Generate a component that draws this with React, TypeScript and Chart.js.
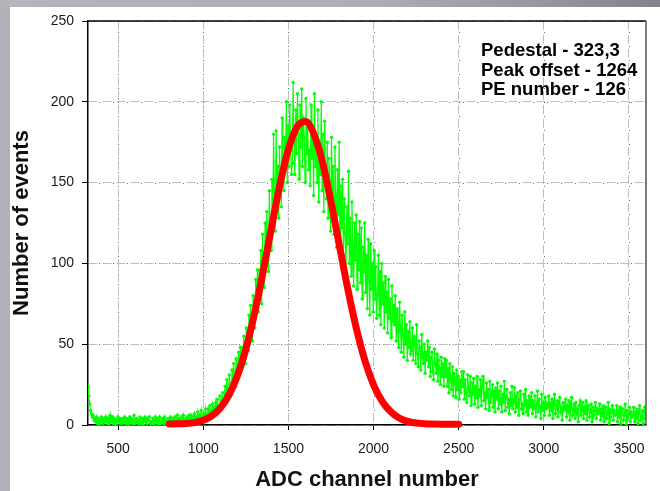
import React, { useEffect, useRef } from "react";
import { Chart, registerables } from "chart.js";

Chart.register(...registerables);

// Green measured histogram: bins start at GREEN_START, every GREEN_STEP channels
const GREEN_START = 323;
const GREEN_STEP = 5;
const greenCounts = [
  24, 18, 13, 9, 7, 5, 6, 3, 4, 2, 5, 1, 3, 4, 0, 2, 5, 3, 1, 4,
  2, 5, 3, 0, 4, 1, 6, 2, 3, 5, 1, 4, 2, 0, 3, 5, 2, 4, 1, 3,
  4, 1, 3, 5, 2, 0, 4, 3, 1, 5, 2, 4, 0, 3, 6, 1, 2, 4, 3, 1,
  3, 5, 1, 2, 4, 0, 3, 5, 2, 1, 4, 3, 5, 1, 2, 0, 4, 3, 1, 5,
  2, 4, 1, 3, 5, 0, 2, 4, 3, 1, 5, 2, 0, 3, 4, 1, 2, 5, 3, 1,
  4, 2, 5, 1, 3, 6, 2, 4, 1, 3, 5, 2, 6, 3, 1, 4, 2, 5, 3, 6,
  3, 6, 2, 5, 4, 7, 3, 5, 2, 8, 4, 6, 3, 9, 5, 4, 7, 3, 10, 6,
  5, 10, 7, 12, 6, 9, 13, 8, 11, 7, 14, 10, 16, 9, 12, 18, 11, 15, 20, 13,
  16, 24, 19, 28, 22, 17, 31, 25, 21, 34, 27, 38, 30, 24, 41, 33, 29, 45, 36, 48,
  34, 48, 40, 55, 44, 38, 60, 50, 46, 68, 55, 74, 62, 52, 80, 66, 60, 90, 70, 96,
  70, 96, 82, 108, 75, 118, 92, 85, 125, 100, 132, 110, 95, 145, 118, 108, 152, 125, 180, 140,
  120, 182, 138, 160, 128, 172, 150, 135, 190, 158, 145, 178, 165, 200, 150, 185, 160, 198, 170, 155,
  162, 212, 175, 155, 195, 168, 205, 180, 152, 198, 172, 208, 160, 190, 178, 150, 202, 168, 185, 158,
  170, 148, 198, 165, 185, 142, 205, 160, 178, 150, 195, 138, 170, 155, 200, 145, 180, 132, 188, 150,
  140, 175, 128, 165, 150, 120, 178, 135, 160, 118, 172, 142, 110, 158, 130, 175, 108, 148, 122, 152,
  105, 140, 118, 95, 135, 112, 157, 100, 128, 92, 138, 110, 86, 125, 102, 130, 84, 118, 96, 126,
  88, 122, 78, 110, 95, 125, 82, 105, 72, 115, 90, 68, 112, 84, 100, 70, 108, 78, 98, 66,
  80, 105, 68, 95, 62, 100, 75, 88, 60, 92, 70, 82, 57, 90, 66, 78, 54, 86, 64, 74,
  62, 80, 52, 72, 58, 48, 76, 60, 45, 68, 55, 42, 70, 50, 62, 40, 58, 48, 64, 44,
  46, 60, 40, 55, 50, 38, 62, 44, 36, 52, 48, 34, 56, 42, 38, 50, 32, 45, 40, 52,
  36, 48, 30, 42, 45, 33, 28, 47, 38, 32, 44, 27, 40, 35, 25, 42, 30, 38, 24, 41,
  30, 40, 24, 35, 20, 38, 28, 22, 36, 18, 32, 26, 17, 34, 22, 30, 16, 28, 20, 33,
  24, 33, 16, 28, 20, 14, 31, 22, 18, 30, 12, 26, 19, 29, 13, 24, 17, 30, 11, 22,
  18, 28, 12, 24, 30, 15, 20, 10, 26, 17, 22, 9, 27, 14, 19, 25, 11, 21, 8, 23,
  16, 26, 10, 21, 13, 24, 8, 19, 14, 27, 9, 18, 22, 11, 16, 7, 20, 12, 24, 10,
  14, 23, 8, 18, 11, 20, 6, 16, 21, 10, 13, 7, 19, 12, 22, 8, 15, 6, 18, 11,
  12, 20, 7, 15, 10, 18, 5, 13, 21, 8, 16, 11, 4, 19, 9, 14, 6, 17, 10, 13,
  11, 18, 6, 14, 9, 16, 4, 12, 19, 7, 10, 15, 5, 13, 17, 8, 11, 3, 14, 9,
  10, 16, 5, 12, 8, 15, 3, 11, 17, 6, 9, 13, 4, 14, 7, 10, 2, 12, 15, 6,
  9, 14, 4, 11, 7, 15, 3, 10, 12, 5, 8, 13, 2, 11, 6, 9, 14, 4, 10, 7,
  8, 13, 3, 10, 6, 12, 2, 9, 11, 4, 7, 14, 1, 10, 5, 8, 12, 3, 9, 6,
  7, 12, 2, 9, 5, 11, 1, 8, 10, 3, 6, 13, 0, 9, 4, 7, 11, 2, 8, 5,
  6, 11, 2, 8, 4, 10, 1, 7, 12, 3, 5, 9, 1, 8, 11, 4,
];

// Red fitted curve, read every 50 channels
const fitChannels = [
  800, 850, 900, 950, 1000, 1050, 1100, 1150, 1200, 1250, 1300, 1350,
  1400, 1450, 1500, 1550, 1600, 1650, 1700, 1750, 1800, 1850, 1900, 1950,
  2000, 2050, 2100, 2150, 2200, 2250, 2300, 2350, 2400, 2450, 2500,
];
const fitValues = [
  0.6, 0.7, 0.9, 1.5, 2.9, 5.7, 10.5, 18.4, 30.3, 46.9, 68.5, 94.1,
  121.8, 148.6, 170.6, 184.4, 187.8, 180.0, 162.6, 138.2, 110.7, 83.5, 59.3, 39.6,
  24.9, 14.8, 8.3, 4.3, 2.2, 1.2, 0.8, 0.6, 0.5, 0.5, 0.5,
];

const xTicks = [500, 1000, 1500, 2000, 2500, 3000, 3500];
const X_MIN = 323;
const X_MAX = 3600;
const Y_MIN = 0;
const Y_MAX = 250;

const annotationLines = ["Pedestal - 323,3", "Peak offset - 1264", "PE number - 126"];
const xTitle = "ADC channel number";
const yTitle = "Number of events";

const FONT = "'Liberation Sans', Arial, Helvetica, sans-serif";

export default function App() {
  const canvasRef = useRef<HTMLCanvasElement | null>(null);

  useEffect(() => {
    document.body.style.margin = "0";
    const canvas = canvasRef.current;
    if (!canvas) return;

    const greenData = greenCounts.map((v, i) => ({ x: GREEN_START + i * GREEN_STEP, y: v }));
    const fitData = fitChannels.map((c, i) => ({ x: c, y: fitValues[i] }));

    const decorPlugin = {
      id: "decor",
      beforeDatasetsDraw(chart: any) {
        const { ctx, chartArea } = chart;
        const xs = chart.scales.x;
        const ys = chart.scales.y;
        ctx.save();
        ctx.strokeStyle = "rgba(40,40,110,0.7)";
        ctx.lineWidth = 1;
        ctx.setLineDash([1, 13]);
        ctx.lineDashOffset = -11;
        xTicks.forEach((t) => {
          const px = Math.round(xs.getPixelForValue(t)) + 0.5;
          ctx.beginPath();
          ctx.moveTo(px, chartArea.top);
          ctx.lineTo(px, chartArea.bottom);
          ctx.stroke();
        });
        [50, 100, 150, 200].forEach((t) => {
          const py = Math.round(ys.getPixelForValue(t)) + 0.5;
          ctx.beginPath();
          ctx.moveTo(chartArea.left, py);
          ctx.lineTo(chartArea.right, py);
          ctx.stroke();
        });
        ctx.restore();
      },
      afterDraw(chart: any) {
        const { ctx, chartArea } = chart;
        ctx.save();
        ctx.strokeStyle = "#000";
        ctx.lineWidth = 1.5;
        ctx.beginPath();
        ctx.moveTo(chartArea.left, chartArea.top);
        ctx.lineTo(chartArea.right, chartArea.top);
        ctx.stroke();
        ctx.strokeStyle = "#555";
        ctx.lineWidth = 1.5;
        ctx.beginPath();
        ctx.moveTo(chartArea.right, chartArea.top);
        ctx.lineTo(chartArea.right, chartArea.bottom);
        ctx.stroke();
        ctx.fillStyle = "#000";
        ctx.font = `bold 18.5px ${FONT}`;
        ctx.textAlign = "left";
        ctx.textBaseline = "alphabetic";
        const baselines = [56, 75.5, 95];
        annotationLines.forEach((t, i) => ctx.fillText(t, 481, baselines[i]));
        ctx.restore();
      },
    };

    const chart = new Chart(canvas, {
      type: "line",
      data: {
        datasets: [
          {
            label: "fit",
            data: fitData,
            borderColor: "#ff0000",
            backgroundColor: "#ff0000",
            borderWidth: 7,
            pointRadius: 0,
            tension: 0.4,
            cubicInterpolationMode: "monotone",
            borderCapStyle: "round",
            borderJoinStyle: "round",
            clip: 6,
            order: 0,
          },
          {
            label: "data",
            data: greenData,
            borderColor: "#00ff00",
            backgroundColor: "#00ff00",
            borderWidth: 1.2,
            pointRadius: 1.7,
            pointBorderWidth: 0,
            pointBackgroundColor: "#00ff00",
            tension: 0,
            order: 1,
          },
        ],
      },
      options: {
        responsive: false,
        animation: false,
        devicePixelRatio: 1,
        events: [],
        layout: { padding: { top: 21, right: 14, left: 0, bottom: 0 } },
        plugins: {
          legend: { display: false },
          tooltip: { enabled: false },
        },
        scales: {
          x: {
            type: "linear",
            min: X_MIN,
            max: X_MAX,
            afterBuildTicks: (scale: any) => {
              scale.ticks = xTicks.map((v) => ({ value: v }));
            },
            afterFit: (scale: any) => {
              scale.height = 66;
            },
            grid: {
              color: "#bdbdbd",
              lineWidth: 1,
              drawTicks: true,
              tickLength: 5,
              tickColor: "#000",
              tickWidth: 1,
              tickBorderDash: [],
            },
            border: { display: true, color: "#000", width: 1.5, dash: [9, 5] },
            ticks: {
              color: "#1a1a1a",
              font: { family: FONT, size: 14 },
              padding: 11,
              maxRotation: 0,
              autoSkip: false,
              callback: (v: any) => String(v),
            },
            title: {
              display: true,
              text: xTitle,
              color: "#111",
              font: { family: FONT, size: 22, weight: "bold", lineHeight: 1 },
              padding: { top: 0, bottom: 0 },
            },
          },
          y: {
            type: "linear",
            min: Y_MIN,
            max: Y_MAX,
            afterFit: (scale: any) => {
              scale.width = 88;
            },
            grid: {
              color: "#bdbdbd",
              lineWidth: 1,
              drawTicks: true,
              tickLength: 6,
              tickColor: "#000",
              tickWidth: 1,
              tickBorderDash: [],
            },
            border: { display: true, color: "#000", width: 1.5, dash: [9, 5] },
            ticks: {
              stepSize: 50,
              color: "#1a1a1a",
              font: { family: FONT, size: 14 },
              padding: 8,
            },
            title: {
              display: true,
              text: yTitle,
              color: "#111",
              font: { family: FONT, size: 22, weight: "bold", lineHeight: 1 },
              padding: { top: 11, bottom: 0 },
            },
          },
        },
      },
      plugins: [decorPlugin],
    } as any);

    return () => chart.destroy();
  }, []);

  return (
    <div style={{ position: "relative", width: 660, height: 491, background: "#b2b0b6", overflow: "hidden" }}>
      <div
        style={{
          position: "absolute",
          left: 0,
          top: 0,
          width: 660,
          height: 7,
          background: "linear-gradient(to right, #b6b4ba 0%, #b0aeb4 55%, #9a989e 80%, #858389 100%)",
        }}
      />
      <div style={{ position: "absolute", left: 10, top: 7, width: 650, height: 484, background: "#ffffff" }} />
      <canvas
        ref={canvasRef}
        width={660}
        height={491}
        style={{ position: "absolute", left: 0, top: 0, width: 660, height: 491 }}
      />
    </div>
  );
}
